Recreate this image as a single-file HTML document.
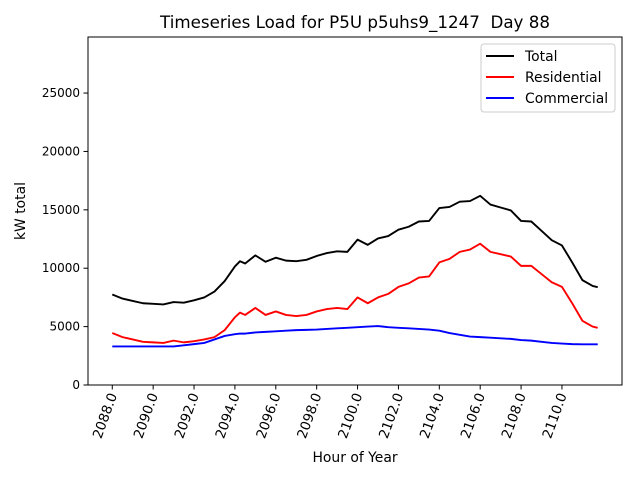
<!DOCTYPE html>
<html><head><meta charset="utf-8"><style>
body{margin:0;background:#fff;}
svg text{font-family:"DejaVu Sans","Liberation Sans",sans-serif;fill:#000;white-space:pre;}
</style></head><body>
<svg id="chart" width="640" height="480" viewBox="0 0 640 480">
<text x="355" y="28" font-size="16.7" text-anchor="middle" xml:space="preserve">Timeseries Load for P5U p5uhs9_1247  Day 88</text>
<g id="plot"></g>
<rect x="88" y="37" width="534" height="348" fill="none" stroke="#000" stroke-width="1"/>
<text x="355" y="462" font-size="13.9" text-anchor="middle">Hour of Year</text>
<text transform="translate(25,211) rotate(-90)" font-size="13.9" text-anchor="middle">kW total</text>
<g>
<rect x="481" y="44" width="134" height="68" rx="3" fill="#fff" stroke="#ccc"/>
<line x1="486" y1="56" x2="514" y2="56" stroke="#000" stroke-width="2"/>
<text x="525" y="61" font-size="13.9">Total</text>
<line x1="486" y1="77" x2="514" y2="77" stroke="#f00" stroke-width="2"/>
<text x="525" y="82" font-size="13.9">Residential</text>
<line x1="486" y1="98" x2="514" y2="98" stroke="#00f" stroke-width="2"/>
<text x="525" y="103" font-size="13.9">Commercial</text>
</g>
</svg>
<script>
const hours=[2088,2088.5,2089,2089.5,2090,2090.5,2091,2091.5,2092,2092.5,2093,2093.5,2094,2094.25,2094.5,2095,2095.5,2096,2096.5,2097,2097.5,2098,2098.5,2099,2099.5,2100,2100.5,2101,2101.5,2102,2102.5,2103,2103.5,2104,2104.5,2105,2105.5,2106,2106.5,2107,2107.5,2108,2108.5,2109,2109.5,2110,2110.5,2111,2111.5,2111.75];
const residential=[4450,4100,3900,3700,3650,3600,3800,3650,3750,3900,4100,4700,5800,6200,6000,6600,6000,6300,6000,5900,6000,6300,6500,6600,6500,7500,7000,7500,7800,8400,8700,9200,9300,10500,10800,11400,11600,12100,11400,11200,11000,10200,10200,9500,8800,8400,7000,5500,5000,4900];
const commercial=[3300,3300,3300,3300,3300,3300,3300,3400,3500,3600,3900,4200,4350,4400,4400,4500,4550,4600,4650,4700,4720,4750,4800,4850,4900,4950,5000,5050,4950,4900,4850,4800,4750,4650,4450,4300,4150,4100,4050,4000,3950,3850,3800,3700,3600,3550,3500,3480,3480,3480];
const total=residential.map((v,i)=>v+commercial[i]);
const xTicks=[2088,2090,2092,2094,2096,2098,2100,2102,2104,2106,2108,2110];
const yTicks=[0,5000,10000,15000,20000,25000];
const NS="http://www.w3.org/2000/svg";
const X0=2086.8125,X1=2112.9375,Y0=0,Y1=29800;
const xs=h=>88+(h-X0)/(X1-X0)*534;
const ys=v=>385-(v-Y0)/(Y1-Y0)*348;
const plot=document.getElementById('plot');
function mk(t,a){const e=document.createElementNS(NS,t);for(const k in a)e.setAttribute(k,a[k]);return e;}
xTicks.forEach(t=>{
  const x=xs(t);
  const l=mk('line',{x1:x,y1:385,x2:x,y2:389.5,stroke:'#000'});
  
  
  plot.appendChild(l);
  const tx=mk('text',{transform:`translate(${x+5},395) rotate(-70)`,'font-size':13.5,'text-anchor':'end'});
  
  
  tx.textContent=t.toFixed(1);plot.appendChild(tx);
});
yTicks.forEach(t=>{
  const y=ys(t);
  const l=mk('line',{x1:83.5,y1:y,x2:88,y2:y,stroke:'#000'});
  
  
  plot.appendChild(l);
  const tx=mk('text',{x:80,y:y+4,'font-size':12,'text-anchor':'end'});
  
  
  tx.textContent=t;plot.appendChild(tx);
});
[[total,'#000','total-line'],[residential,'#f00','residential-line'],[commercial,'#00f','commercial-line']].forEach(([d,c,n])=>{
  const p=mk('polyline',{points:d.map((v,i)=>xs(hours[i])+','+ys(v)).join(' '),fill:'none',stroke:c,'stroke-width':1.9,'stroke-linejoin':'round'});
  
  
  plot.appendChild(p);
});
</script>
</body></html>
